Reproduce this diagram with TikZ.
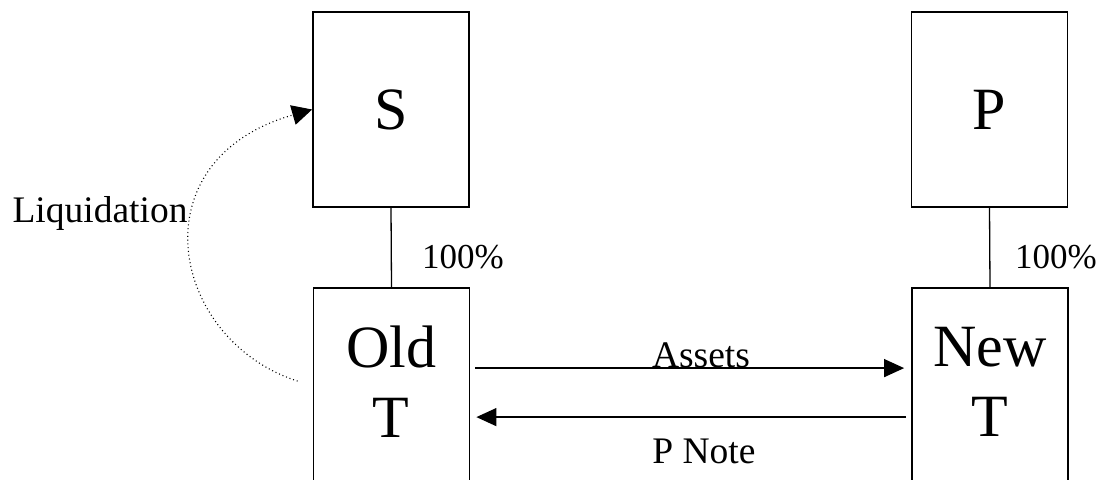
\documentclass[tikz,border=0pt]{standalone}
\usepackage{fontspec}
\setmainfont{Liberation Serif}
\usetikzlibrary{arrows.meta}
\begin{document}
\begin{tikzpicture}[x=1pt,y=-1pt,
 box/.style={draw,line width=1.8pt,minimum width=156pt,inner sep=0pt},
 big/.style={font=\fontsize{60}{70}\selectfont,align=center},
 lbl/.style={font=\fontsize{35}{40}\selectfont,inner sep=0pt},
 lblw/.style={font=\fontsize{37.5}{42}\selectfont,inner sep=0pt},
 link/.style={line width=1.3pt},
 flow/.style={line width=1.3pt,-{Triangle[length=20pt,width=18pt]}},
 liq/.style={line width=1.1pt,dash pattern=on 1pt off 2.8pt,-{Triangle[length=20pt,width=20pt]}}]
\useasboundingbox (0,0) rectangle (1097,479);
\node[box,minimum height=195pt,big] (s) at (391,109.5) {S};
\node[box,minimum height=195pt,big] (p) at (989.5,109.5) {P};
\node[box,minimum height=300pt] (oldt) at (391.5,438) {};
\node[box,minimum height=300pt] (newt) at (990,438) {};
\node[big] (oldtxt) at (391,381.5) {Old\\T};
\node[big] (newtxt) at (990,381.5) {New\\T};
\draw[link] (s.south) -- (oldt.north);
\draw[link] (p.south) -- (newt.north);
\node[lbl,anchor=base west] (pct1) at (422,268) {100\%};
\node[lbl,anchor=base west] (pct2) at (1015,268) {100\%};
\node[lblw,anchor=base] (liqlbl) at (100,222) {Liquidation};
\node[lblw,anchor=base] (assets) at (701,367) {Assets};
\node[lblw,anchor=base] (pnote) at (704,463) {P Note};
\draw[flow] ([xshift=5pt,yshift=-81pt]oldt.north east) -- ([xshift=-7pt,yshift=-81pt]newt.north west);
\draw[flow] ([xshift=-5pt,yshift=-130pt]newt.north west) -- ([xshift=6pt,yshift=-130pt]oldt.north east);
\draw[liq] ([xshift=-15pt,yshift=-94pt]oldt.north west) .. controls (170,340) and (135,160) .. (s.west);
\end{tikzpicture}
\end{document}
